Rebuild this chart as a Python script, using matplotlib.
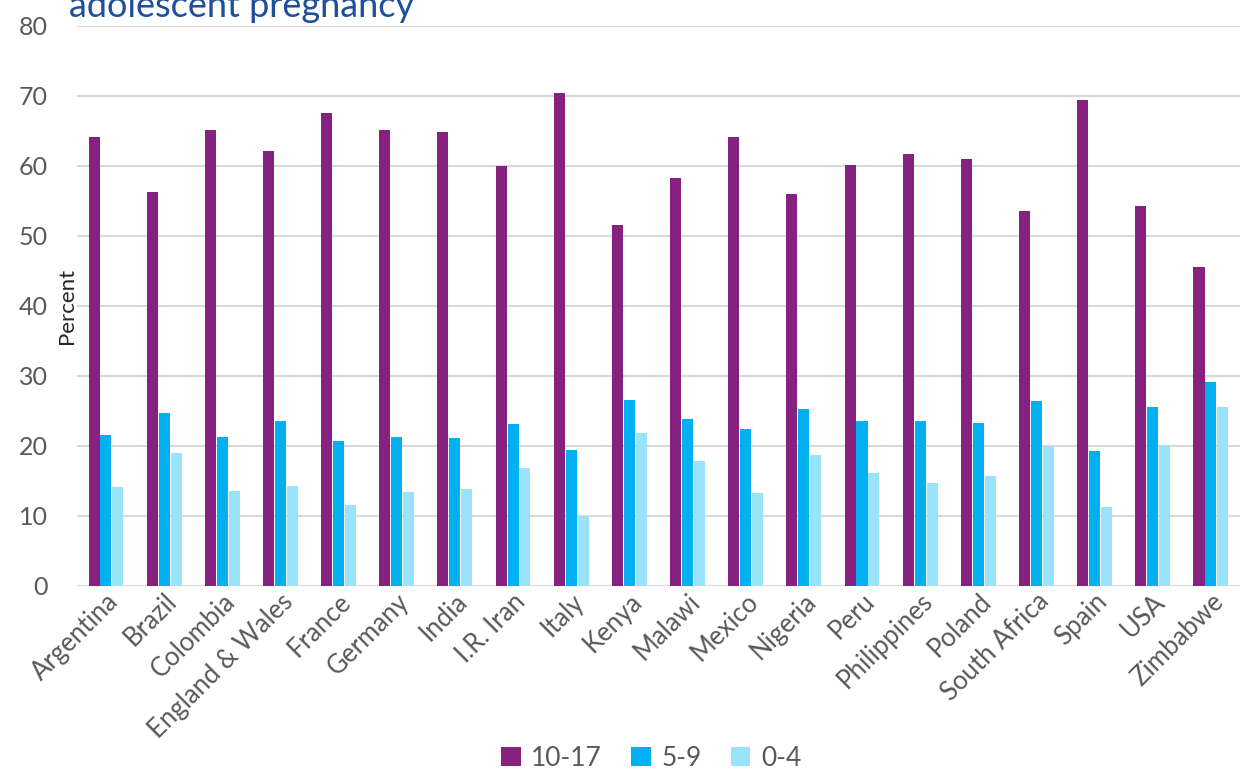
import numpy as np
import matplotlib
matplotlib.use("Agg")
import matplotlib.pyplot as plt

# data
countries = ["Argentina", "Brazil", "Colombia", "England & Wales", "France",
             "Germany", "India", "I.R. Iran", "Italy", "Kenya", "Malawi",
             "Mexico", "Nigeria", "Peru", "Philippines", "Poland",
             "South Africa", "Spain", "USA", "Zimbabwe"]
age_10_17 = [64.1, 56.3, 65.1, 62.1, 67.6, 65.1, 64.9, 60.0, 70.4, 51.6,
             58.3, 64.1, 56.0, 60.1, 61.7, 61.0, 53.6, 69.4, 54.3, 45.6]
age_5_9 = [21.6, 24.7, 21.3, 23.6, 20.7, 21.3, 21.1, 23.1, 19.4, 26.6,
           23.9, 22.4, 25.3, 23.6, 23.6, 23.3, 26.4, 19.3, 25.6, 29.1]
age_0_4 = [14.1, 19.0, 13.6, 14.3, 11.6, 13.4, 13.9, 16.9, 10.0, 21.9,
           17.9, 13.3, 18.7, 16.1, 14.7, 15.7, 20.0, 11.3, 20.1, 25.6]

series = [("10-17", age_10_17, "#86217F"),
          ("5-9", age_5_9, "#00B0F0"),
          ("0-4", age_0_4, "#99E3FB")]

plt.rcParams['font.family'] = ['Lato', 'DejaVu Sans']
grey = "#595959"

fig = plt.figure(figsize=(12.4, 7.75), dpi=100)
ax = fig.add_axes([0.062, 0.2439, 0.938, 0.7226])

x = np.arange(len(countries))
w = 0.19
for i, (name, vals, col) in enumerate(series):
    ax.bar(x + (i - 1) * 0.205, vals, width=w, color=col, label=name, zorder=3)

ax.set_xlim(-0.5, len(countries) - 0.5)
ax.set_ylim(0, 80)
ax.set_yticks(range(0, 81, 10))
ax.tick_params(axis='y', labelsize=18, labelcolor=grey, length=0, pad=21)
ax.set_xticks(x)
ax.set_xticklabels(countries, rotation=45, ha='right', rotation_mode='anchor',
                   fontsize=18.5, color=grey)
ax.tick_params(axis='x', length=0, pad=2)
ax.grid(axis='y', color="#D9D9D9", lw=1.5, zorder=0)
for s in ax.spines.values():
    s.set_visible(False)

ax.text(0.0, 0.5, "Percent", transform=ax.transAxes, rotation=90,
        ha='right', va='center', fontsize=16, color="#262626")

# title line (cut at the top edge, as in the source image)
fig.text(0.056, 0.978, "adolescent pregnancy", fontsize=26, color="#1F4E9C",
         ha='left', va='baseline')

fig.legend(loc='lower center', bbox_to_anchor=(0.525, -0.025), ncol=3,
           frameon=False, fontsize=19, labelcolor=grey, handlelength=0.75,
           handleheight=0.75, handletextpad=0.4, columnspacing=1.1)

fig.savefig("out.png", dpi=100)
